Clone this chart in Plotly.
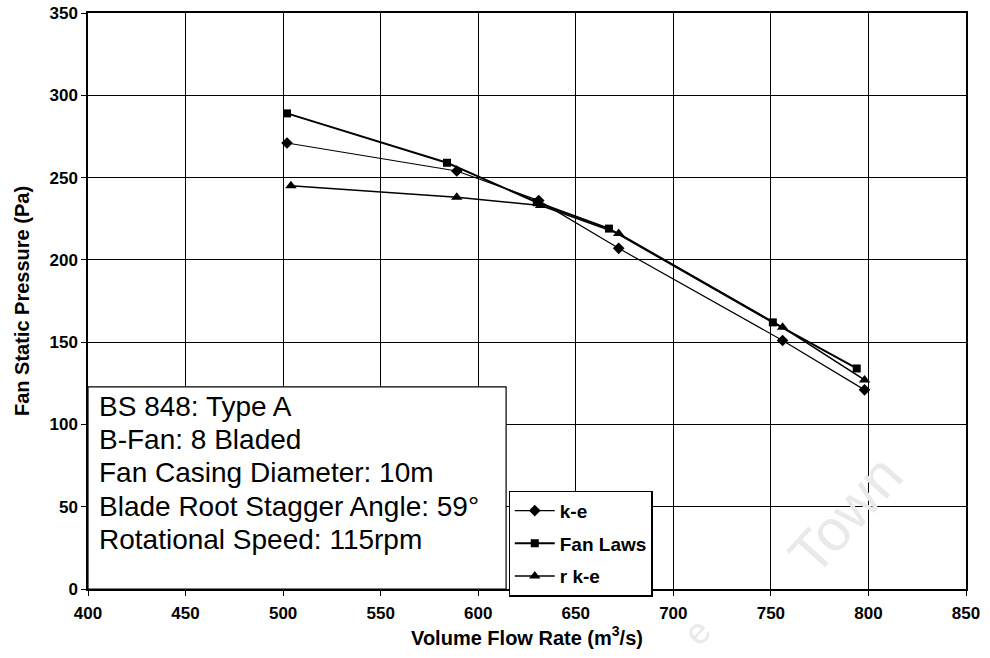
import plotly.graph_objects as go

# Volume flow rate (m^3/s) and fan static pressure (Pa) for each model
ke_flow = [502, 589, 631, 672, 756, 798]
ke_pressure = [271, 254, 236, 207, 151, 121]

fanlaws_flow = [502, 584, 630, 667, 751, 794]
fanlaws_pressure = [289, 259, 235, 219, 162, 134]

rke_flow = [504, 589, 632, 672, 756, 798]
rke_pressure = [245, 238, 233, 216, 159, 127]

x_ticks = [400, 450, 500, 550, 600, 650, 700, 750, 800, 850]
y_ticks = [0, 50, 100, 150, 200, 250, 300, 350]

info_lines = [
    "BS 848: Type A",
    "B-Fan: 8 Bladed",
    "Fan Casing Diameter: 10m",
    "Blade Root Stagger Angle: 59°",
    "Rotational Speed: 115rpm",
]

TICK_FONT = dict(family="Liberation Sans", size=17, color="black", weight="bold")
TITLE_FONT = dict(family="Liberation Sans", size=20, color="black", weight="bold")

fig = go.Figure()

fig.add_trace(go.Scatter(
    x=ke_flow, y=ke_pressure, name="k-e", mode="lines+markers",
    line=dict(color="black", width=1.2),
    marker=dict(symbol="diamond", size=9, color="black"),
    legendgroup="a",
))
fig.add_trace(go.Scatter(
    x=fanlaws_flow, y=fanlaws_pressure, name="Fan Laws", mode="lines+markers",
    line=dict(color="black", width=2),
    marker=dict(symbol="square", size=8, color="black"),
    legendgroup="b",
))
fig.add_trace(go.Scatter(
    x=rke_flow, y=rke_pressure, name="r k-e", mode="lines+markers",
    line=dict(color="black", width=1.5),
    marker=dict(symbol="triangle-up", size=10, color="black"),
    legendgroup="c",
))

# Faint background watermark
fig.add_annotation(
    text="Town", xref="paper", yref="paper", x=0.862, y=0.13,
    xanchor="center", yanchor="middle",
    showarrow=False, textangle=-48,
    font=dict(family="Liberation Sans", size=58, color="#e9e9e9"),
)
fig.add_annotation(
    text="e", xref="paper", yref="paper", x=0.694, y=-0.074,
    xanchor="center", yanchor="middle",
    showarrow=False, textangle=-48,
    font=dict(family="Liberation Sans", size=36, color="#e9e9e9"),
)

# White information panel in the lower-left corner of the plot area
fig.add_shape(
    type="rect", xref="paper", yref="paper",
    x0=0, x1=0.4762, y0=0, y1=0.3508,
    fillcolor="white", line=dict(color="black", width=1.2), layer="above",
)
line_y = [0.3165, 0.2590, 0.2015, 0.1440, 0.0865]
for text, yy in zip(info_lines, line_y):
    fig.add_annotation(
        text=text, xref="paper", yref="paper", x=0.0102, y=yy,
        xanchor="left", yanchor="middle", showarrow=False,
        font=dict(family="Liberation Sans", size=28, color="black"),
    )

axis_common = dict(
    showline=True, linecolor="black", linewidth=1.5, mirror=True,
    showgrid=True, gridcolor="black", gridwidth=1.2,
    ticks="outside", ticklen=5, tickcolor="black", tickwidth=1.2,
    tickfont=TICK_FONT, zeroline=False, automargin=False,
)

fig.update_layout(
    width=990, height=658,
    margin=dict(l=88, r=24, t=13, b=69),
    paper_bgcolor="white", plot_bgcolor="white",
    xaxis=dict(range=[400, 850], tickvals=x_ticks, ticklabelstandoff=3,
               title=dict(text="Volume Flow Rate (m<sup>3</sup>/s)", font=TITLE_FONT, standoff=8),
               **axis_common),
    yaxis=dict(range=[0, 350], tickvals=y_ticks,
               title=dict(text="Fan Static Pressure (Pa)", font=TITLE_FONT, standoff=14),
               **axis_common),
    legend=dict(
        x=0.479, y=0.171, xanchor="left", yanchor="top",
        bgcolor="white", bordercolor="black", borderwidth=1.2,
        font=dict(family="Liberation Sans", size=19, color="black", weight="bold"),
        tracegroupgap=5, itemwidth=40,
    ),
    showlegend=True,
)

fig.write_html("out.html")
